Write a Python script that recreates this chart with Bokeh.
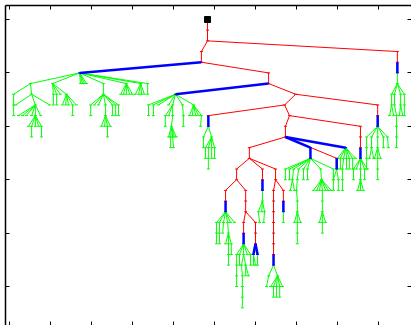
from bokeh.plotting import figure
from bokeh.models import Range1d, LinearAxis, FixedTicker
from bokeh.embed import file_html
from bokeh.resources import INLINE

# ---------------- data ----------------
x_ticks = [0, 10, 20, 30, 40, 50, 60, 70, 80, 90]
depth_ticks = [0, 5, 10, 15, 20, 25]

# main (red / blue) skeleton of the tree: x position, depth level, parent index, edge colour
skel_x = [48.3, 48.3, 48.3, 94.6, 94.6, 94.6, 46.8, 46.8, 17.1, 63.2, 63.2, 40.5, 69.8, 67.1, 89.8,
          89.8, 89.8, 48.5, 48.5, 68.3, 85.6, 85.6, 85.6, 85.6, 67.3, 67.3, 82.0, 73.4, 73.4, 79.8,
          79.8, 58.5, 58.5, 55.4, 61.7, 64.9, 55.4, 52.7, 57.6, 52.7, 52.7, 57.6, 57.6, 57.1, 60.0,
          57.1, 57.1, 60.0, 60.0, 59.5, 60.5, 61.7, 61.7, 64.9, 64.4, 66.8, 64.4, 64.4, 64.4, 64.4,
          64.4, 64.4, 64.4, 66.8, 66.8]
skel_depth = [0, 1, 2, 3, 4, 5, 3, 4, 5, 5, 6, 7, 7, 8, 8, 9, 10, 9, 10, 9, 10, 11, 12, 13, 10, 11,
              12, 12, 13, 13, 14, 12, 13, 14, 14, 14, 15, 16, 16, 17, 18, 17, 18, 19, 19, 20, 21, 20,
              21, 22, 22, 15, 16, 15, 16, 16, 17, 18, 19, 20, 21, 22, 23, 17, 18]
skel_parent = [-1, 0, 1, 2, 3, 4, 2, 6, 7, 7, 9, 10, 10, 12, 12, 14, 15, 13, 17, 13, 19, 20, 21, 22,
               19, 24, 25, 25, 27, 25, 29, 25, 31, 32, 32, 32, 33, 36, 36, 37, 39, 38, 41, 42, 42,
               43, 45, 44, 47, 48, 48, 34, 51, 35, 53, 53, 54, 56, 57, 58, 59, 60, 61, 55, 63]
skel_kind = ["", "red", "red", "red", "red", "blue", "red", "red", "blue", "red", "red", "blue",
             "red", "red", "red", "red", "blue", "red", "blue", "red", "red", "red", "red", "blue",
             "red", "red", "blue", "blue", "blue", "red", "blue", "red", "red", "red", "red", "red",
             "red", "red", "red", "red", "blue", "red", "red", "red", "red", "red", "blue", "red",
             "red", "blue", "blue", "red", "blue", "red", "red", "red", "red", "red", "red", "red",
             "red", "red", "blue", "red", "blue"]

# green clades (parent -1 = the skeleton node they hang from)
gl1a_x = [5.1, 1.0, 1.0, 1.0, 5.4, 1.5, 9.8, 6.3, 2.2, 3.2, 4.1, 5.4, 6.3, 7.6, 4.6, 5.4, 6.3, 7.1, 7.8, 5.4, 7.8]
gl1a_depth = [6, 7, 8, 9, 7, 8, 8, 8, 9, 9, 9, 9, 9, 9, 10, 10, 10, 10, 10, 11, 11]
gl1a_parent = [-1, 0, 1, 2, 0, 4, 4, 4, 7, 7, 7, 7, 7, 7, 12, 12, 12, 12, 12, 15, 18]

gl1b_x = [10.5, 10.7, 10.7, 11.5, 11.5, 13.9, 12.9, 13.7, 14.4, 15.4, 16.3, 15.4, 12.4]
gl1b_depth = [6, 7, 8, 7, 8, 7, 8, 8, 8, 8, 8, 9, 7]
gl1b_parent = [-1, 0, 1, 0, 3, 0, 5, 5, 5, 5, 5, 9, 0]

gl1t_x = [17.3, 17.8, 18.3, 18.8]
gl1t_depth = [6, 6, 6, 6]
gl1t_parent = [-1, -1, -1, -1]

gl1c_x = [22.9, 22.9, 19.8, 20.7, 21.7, 23.4, 25.1, 25.9, 26.6, 23.4, 22.4, 23.2, 23.9, 24.6, 23.9, 25.1, 25.9, 26.6, 19.8]
gl1c_depth = [6, 7, 8, 8, 8, 8, 8, 8, 8, 9, 10, 10, 10, 10, 11, 9, 9, 9, 9]
gl1c_parent = [-1, 0, 1, 1, 1, 1, 1, 1, 1, 5, 9, 9, 9, 9, 12, 6, 7, 8, 2]

gl1d_x = [28.5, 27.1, 27.8, 28.5, 29.3, 30.0, 32.0, 30.7, 31.5, 32.2, 32.9, 33.7, 33.7]
gl1d_depth = [6, 7, 7, 7, 7, 7, 6, 7, 7, 7, 7, 6, 7]
gl1d_parent = [-1, 0, 0, 0, 0, 0, -1, 6, 6, 6, 6, -1, 11]

gl2_x = [33.9, 33.9, 35.1, 35.1, 36.3, 38.8, 39.8, 38.0, 38.8, 39.8, 39.5, 38.8, 39.3, 39.8, 40.2,
         40.7, 39.3, 40.0, 42.2, 42.4, 42.4, 44.9, 43.9, 44.6, 45.4, 46.1, 46.8, 46.6, 38.0]
gl2_depth = [8, 9, 8, 9, 8, 8, 8, 9, 9, 9, 10, 11, 11, 11, 11, 11, 12, 12, 8, 9, 10, 8, 9, 9, 9, 9, 9, 10, 10]
gl2_parent = [-1, 0, -1, 2, -1, -1, -1, 6, 6, 6, 9, 10, 10, 10, 10, 10, 12, 13, -1, 18, 19, -1, 21,
              21, 21, 21, 21, 26, 7]

gm1_x = [47.3, 47.3, 49.3, 47.8, 48.5, 49.3, 50.0, 47.8, 48.5, 49.3, 50.0, 48.5]
gm1_depth = [11, 12, 11, 12, 12, 12, 12, 13, 13, 13, 13, 14]
gm1_parent = [-1, 0, -1, 2, 2, 2, 2, 3, 4, 5, 6, 8]

gr1_x = [94.6, 93.2, 93.9, 95.4, 96.3, 93.2, 93.9, 95.4, 96.3, 92.7, 93.7, 94.4, 95.1, 95.9, 94.4, 94.4, 94.4, 96.3]
gr1_depth = [6, 7, 7, 7, 7, 8, 8, 8, 8, 9, 9, 9, 9, 9, 10, 11, 12, 9]
gr1_parent = [-1, 0, 0, 0, 0, 1, 2, 3, 4, 5, 5, 6, 7, 7, 11, 14, 15, 8]

gr2_x = [87.1, 87.1, 87.1, 88.3, 88.3, 87.8, 88.8, 89.8, 89.8, 89.0, 89.8, 90.5, 89.8, 91.2, 91.2, 92.2, 92.4, 89.8, 87.1]
gr2_depth = [11, 12, 13, 11, 12, 13, 13, 11, 12, 13, 13, 13, 14, 11, 12, 11, 12, 15, 14]
gr2_parent = [-1, 0, 1, -1, 3, 4, 4, -1, 7, 8, 8, 8, 10, -1, 13, -1, 15, 12, 2]

gr3_x = [83.9, 84.6, 85.6, 86.6, 87.3, 83.9, 85.6, 84.9, 85.6, 86.3, 86.6]
gr3_depth = [14, 14, 14, 14, 14, 15, 15, 16, 16, 16, 15]
gr3_parent = [-1, -1, -1, -1, -1, 0, 2, 6, 6, 6, 3]

go_x = [80.0, 80.7, 81.5, 82.2, 82.9, 83.7, 84.4, 80.0, 80.7, 81.2, 82.2, 82.9, 83.7, 81.2, 81.2]
go_depth = [13, 13, 13, 13, 13, 13, 13, 14, 14, 14, 14, 14, 14, 15, 16]
go_parent = [-1, -1, -1, -1, -1, -1, -1, 0, 1, 2, 3, 4, 5, 9, 13]

gq_x = [67.3, 67.3, 68.3, 68.3, 69.3, 69.0, 68.5, 69.5, 70.5, 70.2, 70.0, 70.2, 70.2, 69.5, 70.2,
        71.0, 70.2, 70.2, 71.7, 71.7, 72.7, 72.7, 75.9, 76.1, 74.1, 74.9, 75.6, 76.3, 77.1, 77.8,
        78.5, 76.3, 76.3, 75.6, 76.3, 77.1, 76.3, 79.0, 79.0]
gq_depth = [14, 15, 14, 15, 14, 15, 16, 16, 14, 15, 16, 17, 18, 19, 19, 19, 20, 21, 14, 15, 14, 15,
            14, 15, 16, 16, 16, 16, 16, 16, 16, 17, 18, 19, 19, 19, 20, 14, 15]
gq_parent = [-1, 0, -1, 2, -1, 4, 5, 5, -1, 8, 9, 10, 11, 12, 12, 12, 14, 16, -1, 18, -1, 20, -1,
             22, 23, 23, 23, 23, 23, 23, 23, 27, 31, 32, 32, 32, 34, -1, 37]

gs_x = [79.0, 80.2, 79.0, 80.2]
gs_depth = [15, 15, 16, 16]
gs_parent = [-1, -1, 0, 1]

ga_x = [50.5, 50.5, 50.5, 51.2, 51.2, 51.2, 52.2, 52.0, 53.2, 53.4, 52.7, 53.4, 54.1, 53.4, 53.4, 53.9, 54.9, 54.1]
ga_depth = [19, 20, 21, 19, 20, 21, 19, 20, 19, 20, 21, 21, 21, 22, 23, 19, 19, 22]
ga_parent = [-1, 0, 1, -1, 3, 4, -1, 6, -1, 8, 9, 9, 9, 11, 13, -1, -1, 12]

gb_x = [55.4, 55.4, 55.4, 55.4, 56.1, 56.1, 57.1, 56.6, 57.6, 56.8, 57.6, 56.8, 56.8, 56.8, 58.0, 58.8, 58.8, 58.3]
gb_depth = [22, 23, 24, 25, 22, 23, 22, 23, 23, 24, 24, 25, 26, 27, 22, 22, 23, 24]
gb_parent = [-1, 0, 1, 2, -1, 4, -1, 6, 6, 7, 8, 9, 11, 12, -1, -1, 15, 8]

gbs1_x = [59.5, 60.0]
gbs1_depth = [23, 23]
gbs1_parent = [-1, -1]

gbs2_x = [60.5]
gbs2_depth = [23]
gbs2_parent = [-1]

gc_x = [61.7, 60.7, 61.5, 62.2, 61.0, 62.0]
gc_depth = [17, 18, 18, 18, 19, 19]
gc_parent = [-1, 0, 0, 0, 1, 3]

gd_x = [63.2, 62.7, 65.4, 63.7, 64.4, 65.1, 65.9, 66.6, 64.4, 65.1, 65.9]
gd_depth = [24, 25, 24, 25, 25, 25, 25, 25, 26, 26, 26]
gd_parent = [-1, 0, -1, 2, 2, 2, 2, 2, 4, 5, 6]

ge_x = [66.8]
ge_depth = [19]
ge_parent = [-1]

# which skeleton node each green clade hangs from
clades = [
    (8, gl1a_x, gl1a_depth, gl1a_parent),
    (8, gl1b_x, gl1b_depth, gl1b_parent),
    (8, gl1t_x, gl1t_depth, gl1t_parent),
    (8, gl1c_x, gl1c_depth, gl1c_parent),
    (8, gl1d_x, gl1d_depth, gl1d_parent),
    (11, gl2_x, gl2_depth, gl2_parent),
    (18, gm1_x, gm1_depth, gm1_parent),
    (5, gr1_x, gr1_depth, gr1_parent),
    (16, gr2_x, gr2_depth, gr2_parent),
    (23, gr3_x, gr3_depth, gr3_parent),
    (26, go_x, go_depth, go_parent),
    (28, gq_x, gq_depth, gq_parent),
    (30, gs_x, gs_depth, gs_parent),
    (40, ga_x, ga_depth, ga_parent),
    (46, gb_x, gb_depth, gb_parent),
    (49, gbs1_x, gbs1_depth, gbs1_parent),
    (50, gbs2_x, gbs2_depth, gbs2_parent),
    (52, gc_x, gc_depth, gc_parent),
    (62, gd_x, gd_depth, gd_parent),
    (64, ge_x, ge_depth, ge_parent),
]

# ---------------- build edge / node lists ----------------
edges = {k: {"x0": [], "y0": [], "x1": [], "y1": []} for k in ("green", "red", "blue")}
nodes = {k: {"x": [], "y": []} for k in ("green", "red", "blue")}


def add_edge(kind, x0, y0, x1, y1):
    e = edges[kind]
    e["x0"].append(x0)
    e["y0"].append(y0)
    e["x1"].append(x1)
    e["y1"].append(y1)
    nodes[kind]["x"].append(x1)
    nodes[kind]["y"].append(y1)


for i, (x, d, pa, kind) in enumerate(zip(skel_x, skel_depth, skel_parent, skel_kind)):
    if pa >= 0:
        add_edge(kind, skel_x[pa], skel_depth[pa], x, d)

for attach, xs, ds, ps in clades:
    for x, d, pa in zip(xs, ds, ps):
        if pa < 0:
            x0, y0 = skel_x[attach], skel_depth[attach]
        else:
            x0, y0 = xs[pa], ds[pa]
        add_edge("green", x0, y0, x, d)

# ---------------- figure ----------------
p = figure(width=411, height=325, output_backend="svg", toolbar_location=None,
           x_range=Range1d(-4 / 4.1, 402 / 4.1), y_range=Range1d(306 / 10.68, -14 / 10.68),
           x_axis_location=None, y_axis_location=None,
           min_border_left=5, min_border_top=5, min_border_right=0, min_border_bottom=0)
p.grid.grid_line_color = None
p.outline_line_color = None
p.background_fill_color = "white"
p.border_fill_color = "white"


def make_axis(ticks, show_line):
    ax = LinearAxis(ticker=FixedTicker(ticks=ticks, minor_ticks=[]),
                    major_tick_in=4, major_tick_out=0,
                    minor_tick_in=0, minor_tick_out=0,
                    major_label_text_font_size="0px", major_label_standoff=0,
                    major_label_text_color=None, major_label_text_alpha=0,
                    major_label_overrides={t: "" for t in ticks},
                    major_tick_line_color="black", major_tick_line_width=1,
                    axis_line_color="black" if show_line else None, axis_line_width=1.5)
    return ax


p.add_layout(make_axis(depth_ticks, True), "left")
p.add_layout(make_axis(x_ticks, True), "above")
p.add_layout(make_axis(depth_ticks, False), "right")
p.add_layout(make_axis(x_ticks, False), "below")

styles = {"green": ("#00ff00", 1.0), "red": ("#ff0000", 1.0), "blue": ("#0000ff", 2.5)}
for kind in ("green", "red", "blue"):
    e = edges[kind]
    color, width = styles[kind]
    p.segment(x0=e["x0"], y0=e["y0"], x1=e["x1"], y1=e["y1"], line_color=color, line_width=width)
    p.scatter(x=nodes[kind]["x"], y=nodes[kind]["y"], marker="dash", size=3,
              line_color=color, line_width=1)

p.scatter(x=[skel_x[0]], y=[skel_depth[0]], marker="square", size=6, color="black")

open("out.html", "w").write(file_html(p, INLINE))
